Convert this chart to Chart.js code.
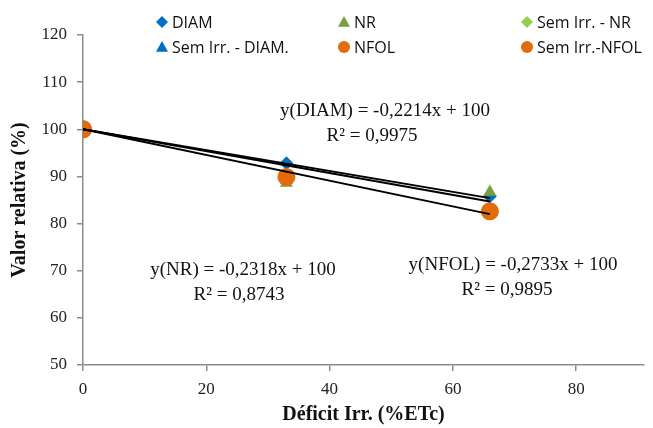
<!DOCTYPE html>
<html>
<head>
<meta charset="utf-8">
<script src="https://cdn.jsdelivr.net/npm/chart.js@4/dist/chart.umd.min.js"></script>
<style>
  html, body { margin: 0; padding: 0; background: #fff; }
  #wrap { width: 653px; height: 428px; }
</style>
</head>
<body>
<div id="wrap"><canvas id="grafico" width="653" height="428"></canvas></div>
<script>
// dados
const deficit = [0, 33, 66];
const diam = [100, 92.8, 85.8];
const nr = [100, 88.6, 86.7];
const nfol = [100, 89.9, 82.6];
const semIrrX = [0];
const semIrrDiam = [100];
const semIrrNr = [100];
const semIrrNfol = [100];
const trendX = [0, 66];
const trendDiam = [100, 85.4];
const trendNr = [100, 84.7];
const trendNfol = [100, 82.0];
const xTicks = [0, 20, 40, 60, 80];

const azul = '#0070C0';
const verde = '#77A03C';
const verdeClaro = '#92D050';
const laranja = '#E36C0A';

const pts = (xs, ys) => xs.map((x, i) => ({ x: x, y: ys[i] }));

const itensLegenda = [
  { txt: 'DIAM', cor: azul, forma: 'diamante', col: 0, lin: 0 },
  { txt: 'NR', cor: verde, forma: 'triangulo', col: 1, lin: 0 },
  { txt: 'Sem Irr. - NR', cor: verdeClaro, forma: 'diamante', col: 2, lin: 0 },
  { txt: 'Sem Irr. - DIAM.', cor: azul, forma: 'triangulo', col: 0, lin: 1 },
  { txt: 'NFOL', cor: laranja, forma: 'circulo', col: 1, lin: 1 },
  { txt: 'Sem Irr.-NFOL', cor: laranja, forma: 'circulo', col: 2, lin: 1 }
];

const equacoes = [
  { linhas: ['y(DIAM) = -0,2214x + 100', 'R² = 0,9975'], x: 385, y: 111, x2: 372 },
  { linhas: ['y(NR) = -0,2318x + 100', 'R² = 0,8743'], x: 243, y: 270, x2: 239 },
  { linhas: ['y(NFOL) = -0,2733x + 100', 'R² = 0,9895'], x: 513, y: 265, x2: 507 }
];

function desenhaForma(ctx, forma, x, y, r, cor) {
  ctx.fillStyle = cor;
  ctx.beginPath();
  if (forma === 'diamante') {
    ctx.moveTo(x, y - r); ctx.lineTo(x + r, y); ctx.lineTo(x, y + r); ctx.lineTo(x - r, y);
  } else if (forma === 'triangulo') {
    ctx.moveTo(x, y - r); ctx.lineTo(x + r, y + r * 0.8); ctx.lineTo(x - r, y + r * 0.8);
  } else {
    ctx.arc(x, y, r, 0, Math.PI * 2);
  }
  ctx.closePath();
  ctx.fill();
}

const pluginExtra = {
  id: 'extra',
  afterDraw(chart) {
    const ctx = chart.ctx;
    ctx.save();
    // legenda
    const colX = [162, 344, 527];
    const linY = [22, 47];
    ctx.font = '16px "Open Sans", sans-serif';
    ctx.textBaseline = 'middle';
    ctx.textAlign = 'left';
    itensLegenda.forEach(it => {
      const x = colX[it.col], y = linY[it.lin];
      desenhaForma(ctx, it.forma, x, y, 6, it.cor);
      ctx.fillStyle = '#111';
      ctx.fillText(it.txt, x + 10, y + 1);
    });
    // equações
    ctx.font = '19px "Liberation Serif", "Times New Roman", serif';
    ctx.textAlign = 'center';
    equacoes.forEach(eq => {
      ctx.fillStyle = '#111';
      ctx.fillText(eq.linhas[0], eq.x, eq.y);
      ctx.fillText(eq.linhas[1], eq.x2, eq.y + 25);
    });
    ctx.restore();
  }
};

const linhaTend = (dados) => ({
  type: 'line',
  data: pts(trendX, dados),
  borderColor: '#000',
  borderWidth: 2,
  pointRadius: 0,
  fill: false,
  order: 0
});

new Chart(document.getElementById('grafico'), {
  type: 'scatter',
  data: {
    datasets: [
      linhaTend(trendDiam),
      linhaTend(trendNr),
      linhaTend(trendNfol),
      { label: 'NFOL', data: pts(deficit, nfol), pointStyle: 'circle', pointRadius: 9, backgroundColor: laranja, borderWidth: 0, order: 1 },
      { label: 'Sem Irr.-NFOL', data: pts(semIrrX, semIrrNfol), pointStyle: 'circle', pointRadius: 9, backgroundColor: laranja, borderWidth: 0, order: 2 },
      { label: 'DIAM', data: pts(deficit, diam), pointStyle: 'rectRot', pointRadius: 7, backgroundColor: azul, borderWidth: 0, order: 4 },
      { label: 'NR', data: pts(deficit, nr), pointStyle: 'triangle', pointRadius: 7.5, backgroundColor: verde, borderWidth: 0, order: 3 },
      { label: 'Sem Irr. - NR', data: pts(semIrrX, semIrrNr), pointStyle: 'rectRot', pointRadius: 7, backgroundColor: verdeClaro, borderWidth: 0, order: 5 },
      { label: 'Sem Irr. - DIAM.', data: pts(semIrrX, semIrrDiam), pointStyle: 'triangle', pointRadius: 7, backgroundColor: azul, borderWidth: 0, order: 6 }
    ]
  },
  options: {
    responsive: false,
    animation: false,
    layout: { padding: { top: 35, right: 0, left: 0, bottom: 0 } },
    plugins: { legend: { display: false }, tooltip: { enabled: false } },
    scales: {
      x: {
        type: 'linear',
        min: 0,
        max: 91,
        afterBuildTicks: (axis) => { axis.ticks = xTicks.map(v => ({ value: v })); },
        afterFit: (axis) => { axis.height = 63; },
        grid: { drawOnChartArea: false, drawTicks: true, tickLength: 6, color: '#8c8c8c', lineWidth: 1.5 },
        border: { color: '#8c8c8c', width: 1.5 },
        ticks: { color: '#222', font: { family: '"Liberation Serif", serif', size: 17 }, padding: 8 },
        title: { display: true, text: 'Déficit Irr. (%ETc)', color: '#111', font: { family: '"Liberation Serif", serif', size: 20, weight: 'bold' }, padding: { top: 2, bottom: 1 } }
      },
      y: {
        min: 50,
        max: 120,
        ticks: { stepSize: 10, color: '#222', font: { family: '"Liberation Serif", serif', size: 17 }, padding: 10 },
        afterFit: (axis) => { axis.width = 83; },
        grid: { drawOnChartArea: false, drawTicks: true, tickLength: 6, color: '#8c8c8c', lineWidth: 1.5 },
        border: { color: '#8c8c8c', width: 1.5 },
        title: { display: true, text: 'Valor relativa (%)', color: '#111', font: { family: '"Liberation Serif", serif', size: 20, weight: 'bold' }, padding: { top: 8, bottom: 0 } }
      }
    }
  },
  plugins: [pluginExtra]
});
</script>
</body>
</html>
